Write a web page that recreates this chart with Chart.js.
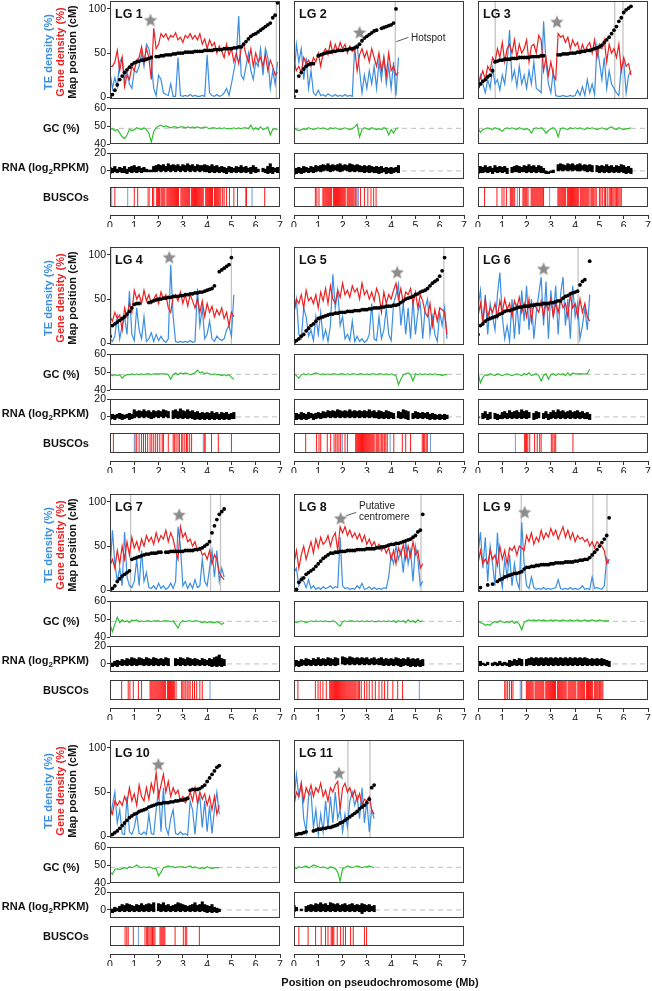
<!DOCTYPE html>
<html>
<head>
<meta charset="utf-8">
<script src="https://cdn.jsdelivr.net/npm/chart.js@4.4.1/dist/chart.umd.min.js"></script>
<style>
  body { margin: 0; background: #fff; }
  #fig { position: relative; width: 652px; height: 991px; overflow: hidden; font-family: 'Liberation Sans', Arial, sans-serif; }
  #fig canvas { position: absolute; }
  .lbl { position: absolute; white-space: nowrap; font-weight: bold; font-size: 11px; line-height: 13px; color: #111; }
  .note { position: absolute; white-space: nowrap; font-size: 10px; line-height: 11px; color: #222; }
</style>
</head>
<body>
<div id="fig"></div>
<script>
// ---- data (one row per linkage group, bins of 0.1 Mb) ----
const lgNames = ['LG 1', 'LG 2', 'LG 3', 'LG 4', 'LG 5', 'LG 6', 'LG 7', 'LG 8', 'LG 9', 'LG 10', 'LG 11'];
const binMb = 0.1;

const teDensity = [
  [28,10,22,12,40,45,20,30,15,10, 30,28,35,50,35,60,55,40,10,2, 25,20,5,3,2,15,1,1,45,2, 1,2,1,3,1,2,1,1,2,1, 48,5,2,1,3,1,2,5,10,2, 15,30,45,92,25,20,35,50,30,20, 40,35,55,25,55,45,10,30,15,40],
  [20,60,40,55,20,45,10,30,5,2, 8,2,3,1,4,2,1,3,1,2, 1,3,1,2,1,58,60,30,5,25, 10,30,15,35,10,40,20,45,15,35, 10,40,2,45],
  [10,25,15,5,20,10,33,15,20,8, 25,15,40,76,20,30,12,35,15,25, 10,30,15,40,10,8,5,86,40,15, 5,30,2,1,1,2,1,1,2,1, 2,8,2,12,2,20,5,15,3,58, 40,20,45,10,30,15,10,5,2,35, 40,5,25,30],
  [5,2,8,30,5,20,30,10,59,10, 3,40,15,5,30,2,5,12,2,10, 3,8,3,1,5,89,30,2,1,2, 1,2,1,3,1,2,62,20,40,5, 10,25,5,2,8,5,3,5,15,20, 8,55],
  [35,50,10,5,40,30,8,15,3,30, 10,35,5,15,2,20,78,40,60,20, 30,5,10,3,25,2,8,2,5,1, 3,10,45,5,3,30,5,15,40,10, 3,45,55,67,20,45,10,40,5,50, 10,35,45,5,40,50,10,30,10,2, 35,20,40,5],
  [40,60,20,55,10,45,30,15,55,80, 30,5,20,2,50,5,45,10,60,25, 65,15,50,5,35,55,75,20,70,5, 60,30,65,10,55,75,20,50,5,65, 30,45,5,20,40,15,55],
  [20,68,30,10,25,5,66,15,5,3, 10,35,5,45,10,20,3,2,5,1, 8,2,5,1,3,8,2,10,72,50, 5,10,2,8,2,12,3,5,35,10, 5,25,45,15,45,10,25,15],
  [20,25,5,15,10,3,12,2,5,1, 3,1,4,2,3,5,2,4,3,60, 5,2,3,1,2,1,5,2,8,1, 2,4,1,3,1,2,1,3,2,15, 40,30,50,35,45,20,55,30,45,10, 50,35,5,10],
  [40,66,25,60,10,50,30,5,65,20, 3,35,15,40,5,30,10,2,77,30, 5,2,15,3,1,2,1,3,1,2, 1,2,3,12,2,1,2,1,3,1, 2,1,2,5,1,2,1,15,2,3, 2,1,5,36,30],
  [20,35,50,15,30,3,2,45,5,2, 10,25,3,2,5,2,25,3,2,30, 53,5,55,10,2,20,30,3,2,5, 2,3,1,40,30,2,35,45,10,40, 5,35,3,30,50,25],
  [40,70,45,60,20,5,45,50,10,30, 2,25,5,40,10,45,15,50,20,30, 5,25,10,40,50,35,45,20,55,15, 40,5,30,20]
];

const geneDensity = [
  [35,35,40,53,30,45,12,25,20,35, 30,42,45,57,40,55,45,20,78,55, 60,72,68,72,65,70,68,73,65,68, 62,70,67,72,66,70,65,72,60,66, 55,65,58,62,50,58,52,45,60,48, 55,40,50,38,55,60,48,40,55,35, 50,40,45,35,48,30,42,35,25,28],
  [40,30,35,28,45,38,42,35,45,40, 50,35,50,55,48,62,50,60,52,62, 55,60,50,58,52,55,30,48,55,45, 52,40,55,45,35,50,30,45,25,50, 30,35,25,28],
  [15,22,30,20,35,30,45,40,55,45, 62,40,55,60,50,65,45,60,50,55, 65,40,58,60,50,70,65,30,45,25, 40,25,20,72,68,70,62,68,55,65, 58,62,50,60,52,58,62,50,65,45, 60,55,65,40,60,50,55,45,60,30, 45,35,38,25],
  [30,25,35,28,32,15,40,30,45,35, 60,50,55,45,60,48,55,45,50,55, 45,58,50,55,40,35,52,55,48,58, 45,55,42,55,48,40,50,35,48,30, 45,35,42,30,38,32,40,28,35,20, 35,30],
  [35,50,45,55,40,60,48,52,45,55, 40,58,48,62,45,65,50,45,60,52, 68,55,60,52,65,58,62,50,68,55, 60,50,58,48,62,55,35,58,45,55, 50,60,68,50,62,45,58,55,62,45, 58,40,55,48,35,30,45,20,38,25, 40,38,35,10],
  [30,45,25,50,30,40,35,45,30,48, 35,50,38,45,30,48,40,52,35,45, 30,50,25,45,40,35,48,30,45,38, 50,30,45,35,50,40,45,30,55,40, 45,30,50,35,45,30,25],
  [28,35,25,45,30,50,35,55,40,60, 48,55,45,58,50,62,55,60,52,65, 55,62,58,68,55,65,58,45,35,72, 60,65,55,58,50,55,45,48,40,42, 35,45,30,40,35,20,15,12],
  [30,45,25,40,50,35,45,55,42,58, 48,60,52,55,62,50,60,65,45,72, 65,72,62,68,60,65,58,64,55,62, 52,58,50,55,48,52,45,50,42,48, 35,45,30,48,40,52,35,50,38,55, 40,45,25,30],
  [30,45,30,35,30,45,35,40,28,50, 35,45,30,48,45,50,40,50,48,45, 62,55,65,52,60,55,68,58,65,60, 70,62,68,58,65,72,60,68,58,65, 55,62,58,60,55,58,50,55,48,55, 52,50,45,30,35],
  [30,25,40,35,40,35,45,38,55,40, 48,35,58,45,40,55,42,60,50,72, 45,58,70,50,62,45,55,48,52,40, 45,38,42,50,40,55,38,50,42,48, 35,45,30,45,25,35],
  [35,50,45,60,40,55,48,58,45,55, 50,60,45,52,40,55,50,58,62,30, 55,60,50,55,45,52,40,48,35,42, 40,45,30,25]
];

const mapPosition = [
  [0,3,8,14,20,24,28,31,34,37, 39,40,41,42,42,43,44,45,null,46, 46,47,47,48,48,48,49,49,50,50, 50,51,51,51,51,52,52,52,52,53, 53,53,53,54,54,54,54,55,55,55, 55,56,56,57,57,60,63,66,69,71, 72,74,76,78,80,82,84,90,93,107],
  [1,7,24,28,32,35,37,38,38,null, 47,48,49,50,51,51,52,52,53,53, 53,54,54,55,55,56,57,60,64,67, 69,71,73,75,76,null,78,79,80,81, 82,84,100,null],
  [12,15,18,20,23,25,30,40,41,42, 42,43,43,43,44,44,44,45,45,45, 45,45,46,46,46,46,47,47,null,null, null,null,null,48,48,49,49,49,50,50, 50,51,51,52,52,53,53,54,55,56, 57,59,62,65,68,72,76,80,86,90, 96,99,101,103],
  [8,20,22,24,26,28,30,33,36,40, 44,45,45,null,null,null,46,47,48,49, 50,50,51,51,52,52,53,53,53,54, 54,55,55,56,56,57,57,58,58,59, 60,61,62,65,null,81,83,85,87,89, 97,null],
  [1,3,5,8,10,14,17,20,22,25, 28,29,30,31,32,33,33,34,34,35, 35,35,36,36,36,37,37,37,38,38, 38,39,39,40,40,40,41,41,42,42, 42,43,43,44,46,48,50,51,52,53, 55,56,58,59,60,62,65,68,70,72, 76,82,97,null],
  [10,20,22,25,27,28,29,30,31,33, 34,36,37,37,38,39,40,41,41,42, 42,42,43,43,44,44,44,45,45,45, 46,46,47,48,48,51,53,54,56,57, 58,59,66,70,72,null,93],
  [-1,2,5,10,13,16,18,20,22,35, 36,37,38,39,40,41,41,42,42,42, 43,43,null,43,43,44,44,44,44,44, 44,45,45,45,45,46,46,47,48,50, 52,55,65,73,80,86,89,92],
  [1,1,9,12,14,18,20,22,24,27, 30,33,36,38,40,42,42,43,43,44, 44,44,45,45,45,45,46,46,46,46, 47,47,47,47,48,48,49,49,50,51, 52,52,53,53,54,55,56,57,58,60, 62,66,68,86],
  [-1,3,null,null,6,null,7,null,10,12, 13,15,16,17,18,19,19,20,21,24, 26,26,27,27,28,28,29,29,29,29, 30,30,31,31,31,31,32,32,32,32, 33,33,34,34,35,35,37,40,43,46, 50,54,58,62,82],
  [1,2,4,6,9,12,15,18,21,23, 25,26,28,29,30,31,33,34,35,36, 37,37,38,38,38,39,39,40,40,41, 41,42,43,52,53,53,53,54,56,58, 62,66,70,74,78,80],
  [1,2,3,3,4,5,null,null,6,7, 8,8,9,9,10,10,11,12,13,15, 16,18,20,22,24,26,28,31,33,35, 38,42,55,58]
];

const gcContent = [
  [48,48.5,47.5,48,46,44,43,45,48,47.5, 48,49,48.5,48,49,48,46,41,47,49, 50,50.5,49.5,50,49.5,49,49.5,49.5,49,49.5, 49.5,49,49.5,49,49.5,49,49.5,49,49,49.5, 49,48.5,49,49,48.5,49,48.5,49,48.5,48.5, 48.5,49,48.5,49,48.5,49,49,48.5,50.5,48, 49,48,49.5,48,48.5,49.5,45,48,48.5,48],
  [49,48,47.5,48,48.5,48,49,48.5,48,48.5, 49,48.5,49,48.5,48,49,48.5,49,48.5,48, 48.5,49,48.5,48,48.5,49.5,51,44,48,49, 48.5,48,49,48.5,48,48.5,48,49,48.5,45, 48,46,48.5,49],
  [48.5,46.5,48,48.5,49,48.5,48,49,48.5,48, 47,48.5,49,48.5,49,48.5,48,49,48.5,48, 48.5,48,46,48.5,49,48.5,49,48,46,47.5, 48.5,49,48,44,48.5,49,48.5,48,49,48.5, 49,48.5,49,48.5,48,49,48.5,49,48.5,48, 48.5,49,48.5,48,49,49.5,48.5,48,49,48.5, 48,48.5,48.5,49],
  [48.5,48,48.5,48,48.5,46.5,48,48.5,48.5,49, 48.5,49,48.5,49,48.5,49,49,48.5,49,49, 49,49,49,49,48.5,46,48.5,49.5,48.5,49.5, 49,49.5,49,48.5,49,49.5,51,49.5,50,49, 49.5,49,48.5,49,48.5,48.5,48,48.5,48,48.5, 47,46],
  [49,48,46.5,48.5,49,48.5,49,48.5,49,49.5, 49,48.5,49,48.5,49,48.5,49,49,48.5,49, 49,48.5,49,48.5,49,49,48.5,49,49,48.5, 49,48.5,49,49,48.5,49,49,48.5,49,48.5, 49,48.5,48,43,46,48.5,49,49.5,48.5,45, 49,48.5,49,48.5,49,48.5,49,48.5,49,48.5, 48.5,48,48.5,48.5],
  [49.5,44,47,48.5,48,49,48.5,48,49,48.5, 48,48.5,49,48.5,48,48.5,49,48.5,48,49, 48.5,49.5,48,48.5,49,48,45,48,49,46, 48.5,49,48,49,48.5,49,48,49.5,48,49.5, 49,49,49,49,49,49,51.5],
  [47,43,47,51,48,49.5,48.5,49,48,49.5, 49,49.5,48.5,49,48.5,49,49,48.5,49,49, 49,48.5,49,49,49,48.5,49,47,45,48, 49,48.5,49,49,48.5,49,49,48.5,48,48.5, 48,48.5,48,48,48.5,48,47,48],
  [48.5,48,48.5,49,48.5,48,48.5,49,48.5,49, 48.5,49,48.5,49,48.5,48.5,49,48.5,47,46, 48.5,49,48.5,49,49,48.5,49,48.5,49,48.5, 49,48.5,49,48.5,48.5,49,48.5,49,48.5,49, 48.5,49,48,49,48.5,49,48,49.5,48.5,49, 48,49.5,48.5,49],
  [49,48,47.5,46.5,47,46.5,48,48.5,48,49, 48.5,48,48.5,48,49,47.5,48.5,47,44,48, 49,49.5,49,49.5,49,49.5,49,49.5,49,49, 49.5,49,49.5,49,49,49.5,49,49,49.5,49, 49,49.5,49,49,49.5,49,49,49.5,49,49, 49.5,49,49,49,49],
  [46,45,47.5,48,47.5,48,48.5,48,49,48.5, 49,50,49,48.5,49,48.5,49,48.5,48,48, 44,46,48.5,49,49.5,49,49,48.5,49,49, 49,48.5,49,49.5,48.5,49,48.5,48,48.5,48, 49,48.5,48,48.5,48.5,48.5],
  [48.5,48,49,48.5,49,49.5,48.5,49,50,49.5, 49,48.5,49,48.5,48,49,48.5,48,46,41, 48,48.5,49.5,49,48.5,49,49.5,49,48.5,49, 49,49.5,49,48.5]
];

// RNA-seq expression, upper and lower envelope per bin (log2 RPKM)
const rnaHigh = [
  [4,3,5,2,4,3,5,2,4,5, 6,4,5,3,4,2,1,1,5,6, 7,6,7,5,8,6,7,6,7,5, 7,6,8,6,7,5,7,6,6,7, 6,5,7,5,6,4,5,4,3,5, 4,3,5,4,6,4,5,3,4,6, 4,2,null,3,2,5,8,4,3,4],
  [2,3,4,3,5,4,3,5,4,6, 5,6,7,6,8,6,7,6,7,8, 6,7,6,8,7,6,7,6,5,6, 5,6,5,4,5,4,5,3,4,3, 4,3,4,6],
  [3,5,4,6,4,5,3,6,4,5, 4,5,3,null,4,5,6,5,4,6, 5,7,5,6,4,6,5,3,0,-1, 0,1,null,7,8,7,6,8,7,8, 6,7,8,6,7,6,7,6,null,6, 5,6,5,7,5,6,4,6,5,7, 6,4,5,3],
  [2,3,2,3,4,3,2,3,4,3, 8,6,7,6,8,6,7,5,7,6, 7,6,8,7,6,null,7,8,6,9, 7,6,8,6,7,5,6,4,5,4, 5,4,6,4,5,3,5,4,5,3, 4,5],
  [3,4,3,5,4,3,5,4,3,4, 5,4,6,5,7,6,7,6,8,7, 6,7,6,8,6,7,6,7,6,7, 6,8,6,7,5,7,6,5,7,6, 5,4,null,6,5,8,7,6,null,4, 6,5,4,5,4,5,3,4,3,2, 3,2,3,2],
  [0,null,4,6,3,5,null,4,3,2, 5,6,4,7,5,6,7,5,8,6, 7,5,null,4,6,5,null,4,6,3, 5,7,5,8,6,7,5,6,7,5, 6,7,5,6,4,5,3],
  [null,1,3,4,3,5,4,6,5,7, 6,5,7,6,5,7,6,5,7,6, 5,6,5,7,6,null,null,6,5,7, 6,5,7,6,5,6,5,4,6,5, 4,6,5,7,8,10,6,5],
  [3,4,3,5,4,6,5,4,6,5, 7,5,6,5,7,6,5,7,6,null, 8,7,6,8,7,6,7,6,7,6, 7,5,6,7,5,6,7,5,6,5, 6,5,7,6,5,6,5,7,5,6, 5,6,4,5],
  [2,3,1,0,2,null,1,2,1,3, 1,2,1,4,3,5,4,6,5,null, 5,6,7,6,7,6,7,6,7,6, 7,6,7,6,7,6,7,6,7,6, 7,6,7,6,7,6,5,6,5,6, 5,6,5,4,3],
  [null,1,3,2,4,6,5,7,6,5, 4,6,5,7,5,6,7,6,8,null, 7,6,8,5,6,4,5,6,8,7, 6,5,4,5,6,8,5,6,9,6, 5,4,6,3,2,1],
  [5,3,null,1,null,4,5,6,5,7, 6,8,6,7,5,8,7,6,7,5, 6,7,5,6,7,5,6,5,7,6, 5,6,4,5]
];
const rnaLow = [
  [-3,-2,-1,-2,-1,-2,-2,-3,-1,-2, -1,-2,-1,-2,-1,-1,-1,-1,-1,-1, 0,-1,0,-1,0,-1,0,-1,0,-1, 0,-1,0,-1,0,-1,0,-1,0,-1, -1,-2,-1,-2,-1,-2,-1,-2,-3,-1, -2,-1,-2,-1,-2,-1,-2,-1,-3,-1, -2,-1,null,-1,-2,-3,-2,-3,-1,-2],
  [-4,-3,-2,-3,-2,-1,-2,-1,-2,-1, 0,-1,0,1,0,-1,0,1,0,-1, 0,1,0,-1,0,-1,0,-1,-1,-2, -1,-2,-1,-2,-2,-3,-2,-1,-3,-2, -3,-2,-1,-2],
  [-3,-2,-2,-1,-2,-1,-3,-1,-2,-1, -2,-1,-3,null,-2,-1,-1,-2,-1,-1, -2,-1,-2,-1,-2,-1,-2,-2,-3,-3, -2,-2,null,0,1,0,1,0,1,0, 1,0,0,1,0,-1,0,-1,null,-1, -2,-1,-2,-1,-2,-1,-2,-1,-2,-1, -2,-3,-2,-3],
  [-3,-2,-3,-1,-2,-3,-2,-1,-3,-2, -1,0,-1,0,-1,0,-1,-2,-1,0, -1,0,-1,0,-1,null,-2,-1,-2,-1, -2,-1,-2,-1,-2,-3,-2,-3,-2,-3, -2,-3,-2,-3,-2,-3,-2,-3,-2,-3, -2,-2],
  [-2,-3,-2,-3,-2,-3,-2,-1,-3,-2, -1,-2,-1,-1,0,-1,0,-1,0,-1, 0,-1,0,-1,0,-1,0,-1,0,-1, 0,-1,0,-1,-1,-2,-1,-2,-1,-2, -1,-2,null,-1,-2,-1,-2,-3,null,-2, -1,-2,-1,-2,-1,-2,-3,-2,-3,-2, -3,-2,-3,-2],
  [-1,null,-2,-1,-3,-2,null,-2,-3,-2, -2,-1,-2,-1,-2,-1,-2,-1,-2,-1, -2,-1,null,-3,-2,-1,null,-2,-1,-3, -2,-1,-2,-1,-2,-1,-2,-1,-2,-1, -2,-1,-2,-1,-2,-2,-3],
  [null,-3,-2,-3,-1,-2,-1,-2,-1,-2, -1,-2,-1,-1,-2,-1,-2,-1,-2,-1, -2,-1,-2,-1,-2,null,null,-2,-1,-2, -1,-2,-1,-2,-1,-2,-1,-2,-1,-2, -1,-2,-3,-2,-3,-2,-3,-2],
  [-3,-2,-3,-2,-1,-2,-1,-2,-1,-2, -1,-2,-1,-2,-1,-2,-1,-2,-1,null, 0,-1,0,-1,0,-1,0,-1,0,-1, 0,-1,0,-1,0,-1,-1,-2,-1,-2, -1,-2,-1,-2,-3,-2,-1,-2,-3,-2, -3,-2,-3,-2],
  [-2,-2,-1,-2,-1,null,-2,-1,-2,-1, -2,-1,-2,-3,-2,-1,-2,-1,-2,null, -2,-1,-1,-2,-1,-2,-1,-2,-1,-2, -1,-2,-1,-2,-1,-2,-1,-2,-1,-2, -1,-2,-1,-2,-1,-2,-1,-2,-1,-2, -1,-2,-1,-2,-3],
  [null,-3,-2,-1,-2,-1,-2,-1,-2,-1, -2,-1,-2,-1,-2,-1,-2,-1,-2,null, -1,-2,-1,-2,-1,-2,-1,-2,-1,-2, -1,-2,-1,-2,-1,-2,-1,-2,-1,-2, -3,-2,-3,-2,-3,-2],
  [-2,-1,null,-1,null,-2,-1,-2,-1,-2, -1,-2,-1,-2,-1,-2,-1,-2,-1,-2, -1,-2,-1,-2,-1,-2,-1,-2,-4,-2, -1,-2,-1,-2]
];

// BUSCO gene positions (Mb)
const buscoRed = [
  [0.2,1.0,1.14,1.57,1.75,1.8,1.92,1.96,2.0,2.04,2.1,2.14,2.18,2.22,2.26,2.34,2.38,2.42,2.46,2.5,2.54,2.58,2.62,2.66,2.7,2.74,2.78,2.82,2.92,2.96,3.0,3.04,3.08,3.12,3.16,3.2,3.24,3.28,3.36,3.4,3.44,3.48,3.52,3.56,3.6,3.64,3.68,3.72,3.76,3.8,3.84,3.94,3.98,4.02,4.06,4.1,4.14,4.18,4.22,4.3,4.34,4.38,4.42,4.46,4.5,4.56,4.64,4.7,4.8,4.92,5.1,5.25,5.62,6.37],
  [0.88,0.94,1.03,1.19,1.23,1.27,1.31,1.35,1.39,1.43,1.47,1.51,1.55,1.63,1.67,1.71,1.75,1.79,1.83,1.87,1.91,1.95,1.99,2.03,2.07,2.11,2.19,2.23,2.27,2.31,2.35,2.39,2.43,2.47,2.52,2.56,2.74,2.9,3.04,3.17,3.28,3.38],
  [0.27,0.78,0.99,1.07,1.17,1.33,1.37,1.41,1.45,1.51,1.71,1.85,1.89,1.93,1.97,2.01,2.06,2.19,2.23,2.27,2.31,2.35,2.39,2.43,2.47,2.51,2.55,2.59,2.63,2.67,2.7,3.29,3.33,3.37,3.41,3.45,3.49,3.53,3.57,3.61,3.69,3.73,3.77,3.81,3.85,3.89,3.93,3.97,4.01,4.05,4.09,4.13,4.21,4.25,4.29,4.33,4.37,4.41,4.45,4.49,4.53,4.57,4.65,4.69,4.73,4.77,4.82,4.87,5.0,5.06,5.12,5.2,5.25,5.32,5.4,5.45,5.5,5.55,5.6,5.65,5.7,5.75,5.8,5.85,5.9],
  [0.14,1.03,1.1,1.2,1.3,1.38,1.46,1.55,1.65,1.72,1.8,1.88,1.96,2.05,2.15,2.2,2.4,2.6,2.65,2.72,2.8,2.86,2.95,3.0,3.08,3.15,3.2,3.28,3.36,3.88,3.92,4.18,4.46,5.0],
  [0.48,0.93,1.03,1.1,1.37,1.51,1.65,1.72,1.78,1.85,1.92,2.1,2.2,2.54,2.58,2.62,2.66,2.7,2.74,2.78,2.82,2.86,2.9,2.94,2.98,3.02,3.06,3.1,3.14,3.18,3.22,3.26,3.3,3.38,3.42,3.46,3.5,3.58,3.62,3.66,3.72,3.78,3.84,4.11,4.46,4.6,4.8,5.28,5.33,5.38,5.44,5.49],
  [1.92,1.96,2.0,2.05,2.13,2.33,2.44,2.54,2.6,3.02,3.08,3.14,3.2,3.91],
  [0.48,0.75,0.82,0.96,1.17,1.3,1.65,1.69,1.73,1.77,1.81,1.85,1.89,1.93,1.97,2.01,2.05,2.09,2.13,2.17,2.21,2.25,2.29,2.37,2.41,2.45,2.49,2.53,2.57,2.61,2.65,2.72,2.95,3.0,3.05,3.12,3.18,3.25,3.3,3.4,3.48,3.57,3.7,3.8],
  [0.16,0.88,0.99,1.08,1.19,1.33,1.47,1.51,1.55,1.59,1.63,1.67,1.71,1.75,1.79,1.83,1.87,1.91,1.95,1.99,2.03,2.07,2.11,2.15,2.19,2.23,2.27,2.31,2.35,2.39,2.43,2.47,2.51,2.55,2.6,2.65,2.7,2.77,2.9,3.0,3.1,3.22,3.35,3.5,3.62,3.73,3.86,4.07,4.27,4.47],
  [1.1,1.15,1.22,1.3,1.38,1.44,1.8,1.99,2.03,2.07,2.11,2.15,2.19,2.23,2.27,2.35,2.39,2.43,2.47,2.51,2.55,2.59,2.63,2.67,2.71,2.79,2.83,2.87,2.91,2.95,2.99,3.03,3.07,3.11,3.15,3.19,3.27,3.31,3.35,3.39,3.43,3.47,3.51,3.55,3.59,3.63,3.71,3.75,3.79,3.83,3.87,3.91,3.95,3.99,4.03,4.11,4.15,4.19,4.23,4.27,4.31,4.35,4.39,4.47,4.51,4.55,4.59,4.63,4.67,4.71,4.79,4.83,4.87,4.91,4.95,5.0,5.05,5.1,5.14],
  [0.62,0.69,0.75,0.96,1.44,1.51,1.55,1.6,1.65,1.7,1.75,1.8,1.85,2.06,2.1,2.14,2.18,2.22,2.26,2.68,3.02,3.1,3.16,3.68],
  [0.2,0.58,0.89,1.12,1.3,1.4,1.53,1.57,1.6,1.64,1.78,1.92,2.03,2.12,2.33,2.44,2.9,2.99]
];
const buscoBlue = [[0.07,0.73,1.63,5.58,5.85],[2.6,2.65],[1.62,2.95],[1.0,3.84],[1.99,3.96,5.62],[1.54],[4.12],[5.16],[1.74],[1.17],[]];

// centromere star (Mb, height on the cM axis) and boundary lines (Mb)
const starMb = [1.67, 2.7, 3.25, 2.44, 4.25, 2.7, 2.85, 1.92, 1.92, 1.99, 1.85];
const starCm = [88, 74, 86, 98, 81, 85, 86, 82, 89, 82, 72];
const boundaryMb = [[6.85],[4.17],[0.71,5.63,5.97],[0.04,5.0],[6.17],[4.12],[0.85,4.14,4.55],[5.23],[1.78,4.73,5.31],[],[2.22,3.13]];

const mainRange = [-2, 109], gcRange = [40, 60], rnaRange = [-9, 20], buscoRange = [0, 1];
const mainTicks = [0, 50, 100], gcTicks = [40, 50, 60], rnaTicks = [0, 20];
const xTicks = [0, 1, 2, 3, 4, 5, 6, 7];
const gcRefLine = 48.7, rnaRefLine = 0;

// ---- layout ----
const fig = document.getElementById('fig');
const colLeft = [110, 294, 478];
const rowTop = [1, 247, 494, 740];
const plotW = 170;
const FONT = "'Liberation Sans', Arial, Helvetica, sans-serif";
const BLUE = '#3c8fe0', RED = '#ec2020', GREEN = '#30c030';
Chart.defaults.font.family = FONT;

const framePlugin = {
  id: 'frame',
  afterDatasetsDraw(chart) {
    const { ctx, chartArea: a } = chart;
    ctx.save();
    ctx.strokeStyle = '#3a3a3a';
    ctx.lineWidth = 1;
    ctx.strokeRect(a.left + 0.5, a.top + 0.5, a.width - 1, a.height - 1);
    ctx.restore();
  }
};

function leaderPlugin(seg) {
  return {
    id: 'leader',
    afterDatasetsDraw(chart) {
      const { ctx, scales: { x, y } } = chart;
      ctx.save();
      ctx.strokeStyle = '#333';
      ctx.lineWidth = 0.8;
      ctx.beginPath();
      ctx.moveTo(x.getPixelForValue(seg[0][0]), y.getPixelForValue(seg[0][1]));
      ctx.lineTo(x.getPixelForValue(seg[1][0]), y.getPixelForValue(seg[1][1]));
      ctx.stroke();
      ctx.restore();
    }
  };
}

function makeStar(size, color) {
  const c = document.createElement('canvas');
  c.width = c.height = size;
  const g = c.getContext('2d');
  const r = size / 2, ri = r * 0.45;
  g.beginPath();
  for (let k = 0; k < 10; k++) {
    const rr = k % 2 ? ri : r;
    const ang = -Math.PI / 2 + k * Math.PI / 5;
    g.lineTo(r + rr * Math.cos(ang), r + 1 + rr * Math.sin(ang));
  }
  g.closePath();
  g.fillStyle = color;
  g.fill();
  return c;
}
const starImg = makeStar(14, '#8c8c8c');

const series = arr => arr.map((v, k) => ({ x: +(k * binMb).toFixed(2), y: v }));
// expression range of each bin as a floating bar [low, high]
const ranges = (hi, lo) => hi.map((v, k) => ({ x: +(k * binMb).toFixed(2), y: [lo[k], v] }))
  .filter(p => p.y[0] != null && p.y[1] != null);
// the same envelope as a zig-zag between the high and low of each bin
const zigzag = (hi, lo) => hi.flatMap((v, k) => [
  { x: +(k * binMb - binMb / 4).toFixed(3), y: v },
  { x: +(k * binMb + binMb / 4).toFixed(3), y: lo[k] }
]);
const hline = (v, color) => ({ data: [{ x: 0, y: v }, { x: 7, y: v }], borderColor: color, borderWidth: 1, borderDash: [5, 4], pointRadius: 0 });

// create a chart, then grow/shrink the canvas until the plot area has the wanted size
function buildChart(cv, config, wantW, wantH) {
  let chart = new Chart(cv, config);
  for (let k = 0; k < 3; k++) {
    const a = chart.chartArea;
    const dw = wantW - Math.round(a.right - a.left);
    const dh = wantH == null ? 0 : wantH - Math.round(a.bottom - a.top);
    if (!dw && !dh) break;
    const w = cv.width + dw, h = cv.height + dh;
    chart.destroy();
    cv.width = w; cv.height = h;
    chart = new Chart(cv, config);
  }
  return chart;
}

function makePanel(col, top, h, yRange, yTicks, datasets, extra) {
  const axW = (col === 0 && yTicks) ? 34 : 0;
  const pad = 7;
  const cv = document.createElement('canvas');
  cv.width = axW + plotW + 1;
  cv.height = h + 2 * pad;
  fig.appendChild(cv);
  const chart = buildChart(cv, {
    type: 'line',
    data: { datasets },
    options: {
      responsive: false,
      maintainAspectRatio: false,
      animation: false,
      events: [],
      layout: { autoPadding: false, padding: { top: pad, bottom: pad, left: 0, right: 1 } },
      plugins: { legend: { display: false }, tooltip: { enabled: false } },
      scales: {
        x: { type: 'linear', min: 0, max: 7, display: false, offset: false },
        y: {
          type: 'linear', min: yRange[0], max: yRange[1], display: axW > 0,
          afterBuildTicks: a => { if (yTicks) a.ticks = yTicks.map(v => ({ value: v })); },
          afterFit: a => { a.width = axW; a.paddingTop = 0; a.paddingBottom = 0; },
          grid: { drawOnChartArea: false, tickLength: 3, color: '#333' },
          border: { display: false },
          ticks: { autoSkip: false, padding: 1, color: '#111', font: { size: 10.5 } }
        }
      }
    },
    plugins: [framePlugin].concat(extra || [])
  }, plotW, h);
  const a = chart.chartArea;
  cv.style.left = (colLeft[col] - a.left) + 'px';
  cv.style.top = (top - a.top) + 'px';
  return chart;
}

function makeXAxis(col, yLine) {
  const padX = 9;
  const cv = document.createElement('canvas');
  cv.width = plotW + 2 * padX;
  cv.height = 24;
  fig.appendChild(cv);
  const chart = buildChart(cv, {
    type: 'line',
    data: { datasets: [] },
    options: {
      responsive: false,
      maintainAspectRatio: false,
      animation: false,
      events: [],
      layout: { autoPadding: false, padding: { left: padX, right: padX, top: 0, bottom: 0 } },
      plugins: { legend: { display: false }, tooltip: { enabled: false } },
      scales: {
        x: {
          type: 'linear', min: 0, max: 7,
          afterBuildTicks: a => { a.ticks = xTicks.map(v => ({ value: v })); },
          afterFit: a => { a.paddingLeft = 0; a.paddingRight = 0; },
          grid: { drawOnChartArea: false, tickLength: 4, color: '#333' },
          border: { color: '#333', width: 1 },
          ticks: { autoSkip: false, maxRotation: 0, padding: 1, color: '#111', font: { size: 10.5 } }
        },
        y: { display: false }
      }
    }
  }, plotW, null);
  const a = chart.chartArea;
  cv.style.left = (colLeft[col] - a.left) + 'px';
  cv.style.top = (yLine - a.bottom) + 'px';
}

function addText(cls, html, left, top, css) {
  const d = document.createElement('div');
  d.className = cls;
  d.innerHTML = html;
  d.style.left = left + 'px';
  d.style.top = top + 'px';
  Object.assign(d.style, css || {});
  fig.appendChild(d);
  return d;
}

// annotation leader lines (Mb, value) keyed by LG index
const leaders = { 1: [[4.21, 62.9], [4.71, 67.8]], 7: [[2.15, 84.4], [2.56, 88.1]] };

lgNames.forEach((name, i) => {
  const col = i % 3, row = Math.floor(i / 3);
  const T = rowTop[row];

  const mainSets = [
    { data: [{ x: starMb[i], y: starCm[i] }], showLine: false, pointStyle: starImg, pointRadius: 7 },
    { data: series(mapPosition[i]), showLine: false, pointRadius: 1.9, pointBackgroundColor: '#000', pointBorderWidth: 0 },
    { data: series(geneDensity[i]), borderColor: RED, borderWidth: 1.2, pointRadius: 0 },
    { data: series(teDensity[i]), borderColor: BLUE, borderWidth: 1.2, pointRadius: 0 }
  ].concat(boundaryMb[i].map(b => ({
    data: [{ x: b, y: mainRange[0] }, { x: b, y: mainRange[1] }], borderColor: '#c4c4c4', borderWidth: 1.3, pointRadius: 0
  })));
  makePanel(col, T, 98, mainRange, mainTicks, mainSets, leaders[i] ? [leaderPlugin(leaders[i])] : []);

  makePanel(col, T + 107, 36, gcRange, gcTicks, [
    { data: series(gcContent[i]), borderColor: GREEN, borderWidth: 1.2, pointRadius: 0 },
    hline(gcRefLine, '#bdbdbd')
  ]);

  makePanel(col, T + 152, 26, rnaRange, rnaTicks, [
    { data: zigzag(rnaHigh[i], rnaLow[i]), borderColor: '#000', borderWidth: 0.7, pointRadius: 0, order: 0 },
    { type: 'bar', data: ranges(rnaHigh[i], rnaLow[i]), backgroundColor: '#000', borderWidth: 0, barPercentage: 1, categoryPercentage: 1, order: 1 },
    Object.assign(hline(rnaRefLine, '#bdbdbd'), { order: 2 })
  ]);

  makePanel(col, T + 186, 20, buscoRange, null, [
    { data: buscoBlue[i].map(p => ({ x: p, y: 0.5 })), showLine: false, pointStyle: 'line', pointRotation: 90, pointRadius: 10, pointBorderColor: '#6f9bdc', pointBorderWidth: 1 },
    { data: buscoRed[i].map(p => ({ x: p, y: 0.5 })), showLine: false, pointStyle: 'line', pointRotation: 90, pointRadius: 10, pointBorderColor: 'rgba(255,0,0,0.9)', pointBorderWidth: 1 }
  ]);

  makeXAxis(col, T + 214);

  addText('lbl', name, colLeft[col] + 5, T + 6.5, { fontSize: '12.5px', lineHeight: '12.5px' });

  if (col === 0) {
    addText('lbl',
      '<div style="color:' + BLUE + '">TE density (%)</div><div style="color:' + RED + '">Gene density (%)</div><div>Map position (cM)</div>',
      60, T + 51, { transform: 'translate(-50%,-50%) rotate(-90deg)', textAlign: 'center', lineHeight: '12px' });
    addText('lbl', 'GC (%)', 43, T + 127, { transform: 'translateY(-50%)' });
    addText('lbl', 'RNA (log<sub style="font-size:8px;line-height:0">2</sub>RPKM)', 0, T + 166, { width: '89px', textAlign: 'right', transform: 'translateY(-50%)' });
    addText('lbl', 'BUSCOs', 43, T + 196, { transform: 'translateY(-50%)' });
  }
});

addText('note', 'Hotspot', 411, 31.5);
addText('note', 'Putative<br>centromere', 359, 500);
addText('lbl', 'Position on pseudochromosome (Mb)', 380, 982, { transform: 'translate(-50%,-50%)' });
</script>
</body>
</html>
